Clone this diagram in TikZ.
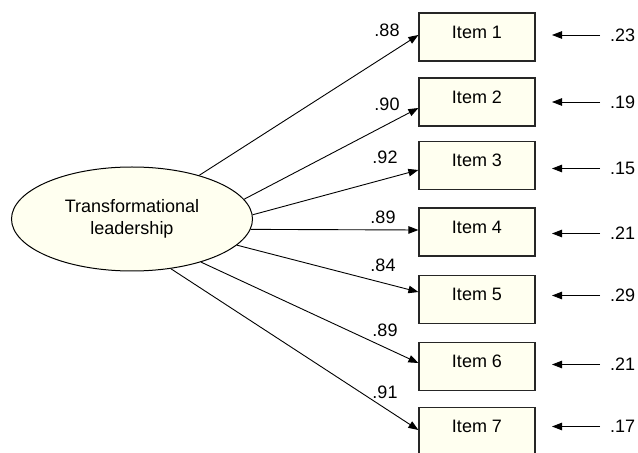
\documentclass[tikz,border=0pt]{standalone}
\usepackage{fontspec}
\setmainfont{Liberation Sans}
\usetikzlibrary{
  arrows.meta,
  shapes.geometric,
}
\definecolor{cream}{RGB}{255,255,240}

\begin{document}
\begin{tikzpicture}[
  x=1pt, y=1pt,
  every node/.style={font=\fontsize{18}{22}\selectfont},
  latent/.style={ellipse, draw, line width=1pt, fill=cream, minimum width=241pt, minimum height=104pt, inner sep=0pt, align=center},
  item/.style={rectangle, draw=black!85, line width=1.2pt, fill=cream, minimum width=116pt, minimum height=48pt, text height=13pt, text depth=10pt},
  load/.style={line width=0.9pt, -{Triangle[length=10pt,width=7.5pt]}},
]
\useasboundingbox (0,0) rectangle (638,453);
\node[latent] (TL) at (132,234) {Transformational\\leadership};
% items, loadings and error terms
\foreach \k/\y/\a/\d/\w/\lx/\ly/\e/\ey in {
  1/416/33/2/.88/387/423/.23/2,
  2/351/10.3/-6/.90/387/349/.19/0,
  3/287.5/2.8/-4.5/.92/385/296/.15/-3,
  4/221/-5.2/2/.89/383/236/.21/-1.5,
  5/153.5/-14.9/7.5/.84/383/188/.29/4,
  6/86.5/-32.3/3.5/.89/385/123/.21/2,
  7/21.5/-52.4/1.5/.91/385/61/.17/5}
{
  \node[item] (I\k) at (477,\y) {Item \k};
  \node[anchor=west, inner sep=2pt] (e\k) at (608,\y+\ey) {\e};
  \node (l\k) at (\lx,\ly) {\w};
  \draw[load] (TL.\a) -- ([yshift=\d pt]I\k.west);
  \draw[load] ([xshift=-8pt]e\k.west) -- ([xshift=-56pt]e\k.west);
}
\end{tikzpicture}
\end{document}
